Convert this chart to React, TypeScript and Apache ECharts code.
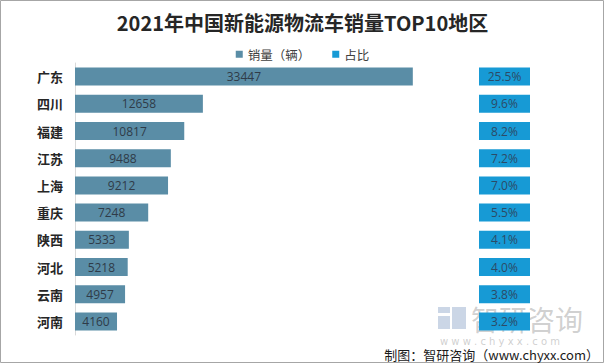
import React, { useEffect, useRef } from "react";
import * as echarts from "echarts";

const regions = ["广东", "四川", "福建", "江苏", "上海", "重庆", "陕西", "河北", "云南", "河南"];
const sales = [33447, 12658, 10817, 9488, 9212, 7248, 5333, 5218, 4957, 4160];
const shares = [25.5, 9.6, 8.2, 7.2, 7.0, 5.5, 4.1, 4.0, 3.8, 3.2];
const shareColumn = ["占比"];

export default function App() {
  const ref = useRef<HTMLDivElement>(null);
  useEffect(() => {
    if (!ref.current) return;
    const chart = echarts.init(ref.current, null, { renderer: "svg" });
    const font = "'Noto Sans CJK SC', 'Noto Sans', sans-serif";
    chart.setOption({
      animation: false,
      backgroundColor: "#ffffff",
      textStyle: { fontFamily: font },
      title: {
        text: "2021年中国新能源物流车销量TOP10地区",
        left: "center",
        top: 7,
        textStyle: { fontSize: 20, fontWeight: "bold", color: "#262626", fontFamily: font },
      },
      legend: {
        top: 43,
        left: "center",
        itemWidth: 7,
        itemHeight: 7,
        itemGap: 22,
        textStyle: { fontSize: 12.5, color: "#404040", fontFamily: font },
        data: [
          { name: "销量（辆）", icon: "rect" },
          { name: "占比", icon: "rect" },
        ],
      },
      grid: [
        { left: 75, top: 63, width: 404, height: 272 },
        { left: 479, top: 63, width: 51, height: 272 },
      ],
      xAxis: [
        { gridIndex: 0, type: "value", min: 0, max: 40000, show: false },
        { gridIndex: 1, type: "category", data: shareColumn, show: false },
      ],
      yAxis: [
        {
          gridIndex: 0,
          type: "category",
          data: regions,
          inverse: true,
          axisLine: { show: true, lineStyle: { color: "#d9d9d9" } },
          axisTick: { show: false },
          axisLabel: {
            margin: 12,
            fontSize: 13,
            fontWeight: "bold",
            color: "#262626",
            fontFamily: font,
          },
        },
        { gridIndex: 1, type: "category", data: regions, inverse: true, show: false },
      ],
      series: [
        {
          name: "销量（辆）",
          type: "bar",
          xAxisIndex: 0,
          yAxisIndex: 0,
          data: sales,
          barWidth: 18,
          itemStyle: { color: "#5a8da6" },
          label: {
            show: true,
            position: "inside",
            fontSize: 12,
            color: "#2f3b48",
            fontFamily: "'Open Sans', sans-serif",
          },
        },
        {
          name: "占比",
          type: "scatter",
          xAxisIndex: 1,
          yAxisIndex: 1,
          symbol: "rect",
          symbolSize: [51, 18],
          itemStyle: { color: "#179ad5", opacity: 1 },
          data: regions.map((r, i) => [shareColumn[0], r, shares[i]]),
          encode: { x: 0, y: 1 },
          label: {
            show: true,
            position: "inside",
            fontSize: 12,
            color: "#2c4a66",
            fontFamily: "'Open Sans', sans-serif",
            formatter: (p: any) => p.value[2].toFixed(1) + "%",
          },
        },
      ],
      graphic: [
        {
          type: "rect",
          shape: { x: 0.5, y: 0.5, width: 603, height: 362 },
          style: { fill: "none", stroke: "#a6a6a6", lineWidth: 1 },
          silent: true,
        },
        {
          type: "group",
          z: 100,
          silent: true,
          children: [
            { type: "rect", shape: { x: 438, y: 307, width: 12, height: 6 }, style: { fill: "rgba(140,165,200,0.45)" } },
            { type: "rect", shape: { x: 452, y: 307, width: 14, height: 22 }, style: { fill: "rgba(140,165,200,0.45)" } },
            { type: "rect", shape: { x: 438, y: 316, width: 12, height: 13 }, style: { fill: "rgba(140,165,200,0.45)" } },
            {
              type: "text",
              x: 471,
              y: 305,
              style: {
                text: "智研咨询",
                font: "28px 'Noto Sans CJK SC'",
                lineHeight: 28,
                fill: "rgba(150,150,150,0.45)",
              },
            },
            {
              type: "text",
              x: 440,
              y: 336,
              style: {
                text: "w w w . c h y x x . c o m",
                font: "10px 'DejaVu Sans'",
                lineHeight: 10,
                fill: "rgba(160,160,160,0.5)",
              },
            },
          ],
        },
        {
          type: "text",
          right: 6,
          bottom: 3,
          z: 101,
          style: {
            text: "制图：智研咨询（www.chyxx.com）",
            font: "13px 'Noto Sans CJK SC'",
            fill: "#1a1a1a",
          },
        },
      ],
    });
    return () => chart.dispose();
  }, []);
  return <div ref={ref} style={{ position: "fixed", left: 0, top: 0, width: 605, height: 364 }} />;
}
